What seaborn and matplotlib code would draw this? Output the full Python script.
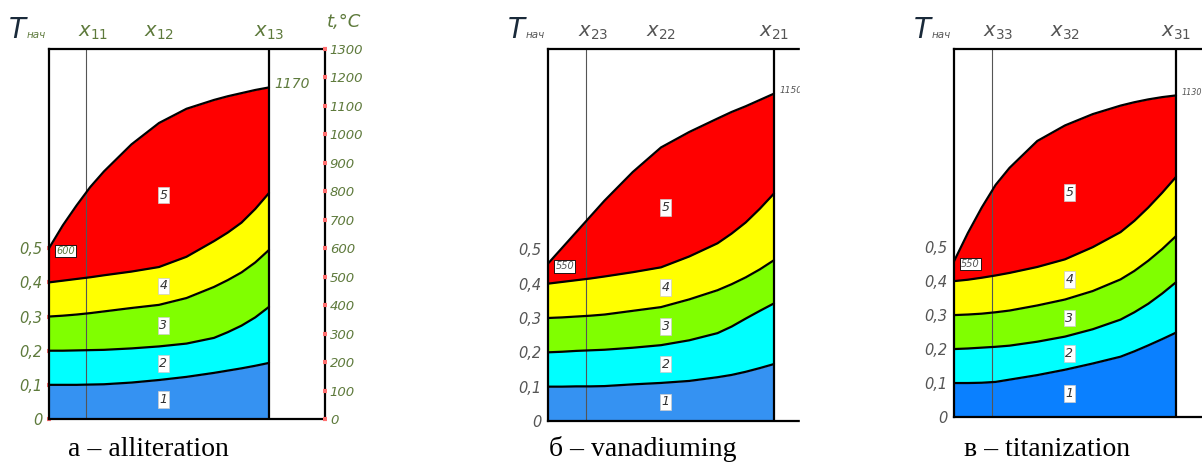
import numpy as np
import seaborn as sns
import matplotlib.pyplot as plt
from matplotlib.patches import Rectangle

# x position along the zone (0 = left edge, 1 = x13 / x21 / x31 line)
x_pos = [0, 0.0625, 0.125, 0.1875, 0.25, 0.375, 0.5, 0.625, 0.75, 0.8125, 0.875, 0.9375, 1]

# upper boundary of zones 1..5, temperature in degC
a_zone1 = [120, 120, 120, 121, 122, 128, 137, 148, 162, 170, 178, 187, 197]
a_zone2 = [240, 240, 241, 242, 243, 248, 255, 265, 285, 305, 328, 357, 394]
a_zone3 = [360, 363, 367, 372, 378, 390, 401, 425, 464, 488, 515, 550, 594]
a_zone4 = [480, 486, 492, 498, 505, 518, 534, 570, 625, 655, 690, 738, 794]
a_zone5 = [600, 680, 750, 815, 870, 965, 1040, 1090, 1121, 1134, 1145, 1156, 1165]

b_zone1 = [120, 120, 121, 121, 122, 128, 133, 140, 153, 161, 172, 185, 199]
b_zone2 = [240, 242, 245, 247, 249, 256, 265, 282, 307, 330, 358, 385, 411]
b_zone3 = [360, 362, 365, 368, 372, 385, 398, 425, 457, 478, 502, 530, 562]
b_zone4 = [480, 486, 492, 498, 505, 520, 537, 575, 621, 655, 694, 742, 795]
b_zone5 = [550, 605, 660, 715, 770, 870, 956, 1010, 1057, 1080, 1100, 1122, 1144]

c_zone1 = [120, 120, 121, 124, 132, 148, 167, 189, 213, 232, 253, 275, 298]
c_zone2 = [240, 242, 245, 248, 252, 266, 284, 310, 344, 370, 400, 436, 476]
c_zone3 = [360, 362, 365, 370, 376, 394, 415, 445, 486, 516, 552, 593, 639]
c_zone4 = [480, 485, 492, 500, 509, 530, 557, 600, 653, 693, 740, 792, 848]
c_zone5 = [550, 650, 740, 820, 880, 975, 1030, 1070, 1100, 1112, 1122, 1130, 1136]

zone_names = ['1', '2', '3', '4', '5']
zone_colors = ['#3592f2', '#00ffff', '#80ff00', '#ffff00', '#ff0000']
c_zone_colors = ['#0a80ff', '#00ffff', '#80ff00', '#ffff00', '#ff0000']

tau_ticks = [0, 0.1, 0.2, 0.3, 0.4, 0.5]
tau_labels = ['0', '0,1', '0,2', '0,3', '0,4', '0,5']
t_ticks = list(range(0, 1400, 100))

W, H = 1202, 465
XMAX = 1.2545

sns.set_theme(style='white')
plt.rcParams['font.family'] = ['DejaVu Sans']

fig = plt.figure(figsize=(W / 100, H / 100), dpi=100)


def fx(px):
    return px / W


def fy(py):
    return 1 - py / H


def make_panel(left, unit, top, bottom, zones, colors, txt_color,
               start_label, end_label, sub, caption, cap_x,
               right_axis=False, end_size=6.5):
    ax = fig.add_axes([fx(left), fy(bottom), unit * XMAX / W, (bottom - top) / H])
    ax.set_xlim(0, XMAX)
    ax.set_ylim(0, 1300)

    lower = [0] * len(x_pos)
    for z, col in zip(zones, colors):
        ax.fill_between(x_pos, lower, z, color=col, lw=0, zorder=1)
        sns.lineplot(x=x_pos, y=z, color='black', lw=1.6, ax=ax, zorder=3)
        lower = z

    # zone numbers in the middle of each band
    mid = x_pos.index(0.5)
    lower = [0] * len(x_pos)
    for name, z in zip(zone_names, zones):
        ymid = (lower[mid] + z[mid]) / 2
        ax.text(0.52, ymid, name, ha='center', va='center', fontsize=9,
                style='italic', color='#333333', zorder=4,
                bbox=dict(boxstyle='square,pad=0.15', fc='white', ec='#cccccc', lw=0.5))
        lower = z

    ax.axvline(1, color='black', lw=1.6, zorder=3)
    ax.axvline(0.17, color='#555555', lw=0.8, zorder=2)

    for s in ax.spines.values():
        s.set_color('black')
        s.set_linewidth(1.6)

    ax.set_xticks([])
    ax.set_yticks([t * 1200 for t in tau_ticks])
    ax.set_yticklabels(tau_labels, fontsize=10.5, style='italic', color=txt_color)
    ax.tick_params(axis='y', length=3, width=3, color='#ff7070', direction='inout', pad=3)

    ax.text(0.075, zones[4][0] - 10, start_label, fontsize=7, style='italic',
            color=txt_color, va='center', ha='center', zorder=4,
            bbox=dict(boxstyle='square,pad=0.12', fc='white', ec='black', lw=0.6))
    ax.text(1.025, zones[4][-1] + 12, end_label, fontsize=end_size,
            style='italic', color=txt_color, va='center', ha='left',
            clip_on=False)

    if right_axis:
        ax2 = ax.twinx()
        ax2.set_ylim(0, 1300)
        ax2.set_yticks(t_ticks)
        ax2.set_yticklabels([str(t) for t in t_ticks], fontsize=9.5, style='italic',
                            color=txt_color)
        ax2.tick_params(axis='y', length=3, width=3, color='#ff7070', direction='inout', pad=2)
        ax2.grid(False)
        for s in ax2.spines.values():
            s.set_visible(False)
        fig.text(fx(left + unit * XMAX + 2), fy(22), 't,°C', fontsize=13, style='italic',
                 color=txt_color, ha='left', va='center')

    # header labels
    fig.text(fx(left - 32), fy(30), 'Τ', fontsize=20, style='italic',
             color='#1a2a3a', ha='center', va='center')
    fig.text(fx(left - 13), fy(35), 'нач', fontsize=7.5, style='italic',
             color=txt_color, ha='center', va='center')
    for xp, s in zip([0.2, 0.5, 1.0], sub):
        fig.text(fx(left + unit * xp), fy(33), '$x_{%s}$' % s, fontsize=14,
                 color=txt_color, ha='center', va='center')

    fig.text(fx(cap_x), fy(449), caption, fontsize=20, family='Liberation Serif',
             color='black', ha='center', va='center')
    return ax


make_panel(49, 220, 49, 419,
           [a_zone1, a_zone2, a_zone3, a_zone4, a_zone5], zone_colors, '#5e7a3c',
           '600', '1170', ['11', '12', '13'], 'a – alliteration', 148,
           right_axis=True, end_size=10)
make_panel(548, 226, 49, 421,
           [b_zone1, b_zone2, b_zone3, b_zone4, b_zone5], zone_colors, '#555555',
           '550', '1150', ['23', '22', '21'], 'б – vanadiuming', 643)
make_panel(954, 222, 49, 417,
           [c_zone1, c_zone2, c_zone3, c_zone4, c_zone5], c_zone_colors, '#555555',
           '550', '1130', ['33', '32', '31'], 'в – titanization', 1047, end_size=5.8)

# the source picture is cut right after panel b
fig.patches.append(Rectangle((fx(800), 0), fx(105), 1, transform=fig.transFigure,
                             color='white', zorder=10))

fig.savefig('out.png', dpi=100)
